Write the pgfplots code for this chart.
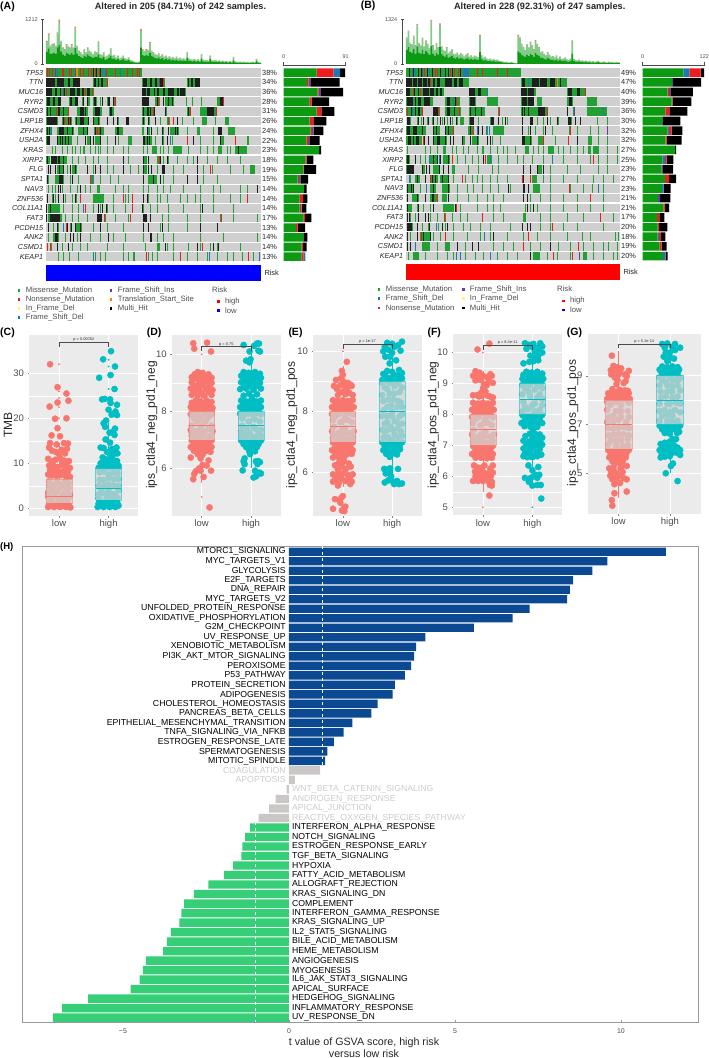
\documentclass[border=0pt]{standalone}
\usepackage{fontspec}
\setmainfont{Liberation Sans}
\usepackage{pgfplots}
\usepackage{pgfplotstable}
\pgfplotsset{compat=1.18}
\definecolor{cMis}{HTML}{22A033}\definecolor{cNon}{HTML}{EE1C1E}\definecolor{cDel}{HTML}{1F78B4}
\definecolor{cIns}{HTML}{6A3D9A}\definecolor{cTss}{HTML}{FF7F00}\definecolor{cBg}{HTML}{CFCFCF}
\definecolor{cMisB}{HTML}{0C9A12}\definecolor{cLt}{HTML}{80CC88}\definecolor{cTip}{HTML}{F47C7C}
\definecolor{sal}{HTML}{F8766D}\definecolor{tea}{HTML}{00BFC4}\definecolor{ggbg}{HTML}{EBEBEB}
\definecolor{boxg}{HTML}{D3D3D3}\definecolor{txg}{HTML}{4D4D4D}\definecolor{hBlue}{HTML}{0B4A92}
\definecolor{hGreen}{HTML}{37CE78}\definecolor{hGray}{HTML}{CCC7C7}\definecolor{hTxt}{HTML}{CCCCCC}
\pgfplotsset{
 base/.style={scale only axis,hide axis,clip=false},
 ov/.style={scale only axis,hide axis,clip=false,xmin=0.4,xmax=2.6,anchor=south west},
 seg/.style={line width=8.6pt,line cap=butt,unbounded coords=jump,forget plot,mark=none},
 bgr/.style={seg,color=cBg}, mis/.style={seg,color=cMis}, non/.style={seg,color=cNon},
 del/.style={seg,color=cDel}, ins/.style={seg,color=cIns}, tss/.style={seg,color=cTss}, blk/.style={seg,color=black!88},
 gg/.style={scale only axis,clip=false,xmin=0.4,xmax=2.6,axis line style={draw=none},
  axis background/.style={fill=ggbg},xtick={1,2},xticklabels={low,high},xtick pos=bottom,ytick pos=left,
  grid=both,grid style={white,line width=.7pt},minor grid style={white,line width=.3pt},
  minor y tick num=1,tick align=outside,tick style={gray,line width=.3pt},major tick length=1.8pt,minor tick length=0pt,
  /pgf/number format/assume math mode=true,xticklabel shift=-1.5pt,
  tick label style={font=\fontsize{9.5}{10}\selectfont,text=txg}},
 psal/.style={only marks,mark=*,mark size=3.1pt,color=sal,mark options={draw=none,fill=sal}},
 ptea/.style={only marks,mark=*,mark size=3.1pt,color=tea,mark options={draw=none,fill=tea}},
 dsal/.style={only marks,mark=*,mark size=.7pt,color=sal,mark options={draw=none,fill=sal}},
 dtea/.style={only marks,mark=*,mark size=.7pt,color=tea,mark options={draw=none,fill=tea}},
}
\newcommand\Seg[3]{\gdef\acc{}\foreach \xa/\xb in {#3}{\pgfmathsetmacro\xe{\xb+2.7}\xdef\acc{\acc(\xa,#2)(\xe,#2)(nan,#2)}}\edef\tmpp{\noexpand\addplot[#1] coordinates {\acc};}\tmpp}
\newcommand\TB[2]{\gdef\acc{}\foreach \vv [count=\ii] in {#2}{\xdef\acc{\acc(\ii,\vv)}}\edef\tmpp{\noexpand\addplot[fill=#1,draw=none] coordinates {\acc};}\tmpp}
\newcommand\BX[9]{\addplot[#1,line width=.5pt,forget plot] coordinates {(#2,#8)(#2,#9)};
 \addplot[draw=#1,fill=boxg,fill opacity=.72,draw opacity=.55,line width=.5pt,forget plot] coordinates {(#3,#5)(#4,#5)(#4,#7)(#3,#7)(#3,#5)};
 \addplot[#1,line width=.8pt,forget plot] coordinates {(#3,#6)(#4,#6)};}
\newcommand\BR[5]{\addplot[black!70,line width=.5pt,forget plot] coordinates {(1,#2)(1,#1)(2,#1)(2,#2)};
 \node[anchor=south,inner sep=.4pt,font=\fontsize{3.9}{4}\selectfont,text=black!80] at (axis cs:#3,#1) {#5};}
\newcommand\Tx[6][]{\node[anchor=#4,inner sep=0pt,#1] at (#2,#3) {\fontsize{#5}{#5}\selectfont #6};}
\newcommand\HL[2]{\node[anchor=east,inner sep=0pt,font=\fontsize{8.7}{9}\selectfont] at (axis cs:-.09,#1) {#2};}
\newcommand\HR[2]{\node[anchor=west,inner sep=0pt,font=\fontsize{8.7}{9}\selectfont] at (axis cs:.09,#1) {#2};}
\newcommand\HLg[2]{\node[anchor=east,inner sep=0pt,text=hTxt,font=\fontsize{8.7}{9}\selectfont] at (axis cs:-.09,#1) {#2};}
\newcommand\HRg[2]{\node[anchor=west,inner sep=0pt,text=hTxt,font=\fontsize{8.7}{9}\selectfont] at (axis cs:.09,#1) {#2};}
\pgfplotstableread{
r g n d i k
1 48.4 24.5 9.8 0 7.3
2 34.2 2.4 0 2.4 43
3 49.4 1.5 0 2.9 33.3
4 37.7 3.4 0 0 25.4
5 48.4 6.8 0 0 19
6 38.1 5.4 0 0 19.1
7 39.6 2 0 2.4 14.2
8 33.3 2.4 0 2 15.2
9 51.9 0 0 0 2.9
10 31.8 2 0 0 9.8
11 28.9 1 0 0 17.6
12 20.5 2 2 0 11.2
13 29.8 0 0 0 3.9
14 23.5 4.9 0 0 6.4
15 23.5 2.4 1 0 6.4
16 28.9 2.4 0 0 9.3
17 18 2.4 0 0 11.2
18 28.9 0 0 0 5.9
19 26.4 2 0 0 5.4
20 25.9 2.9 2.9 0 0
}\tabA
\pgfplotstableread{
r g d n i k
1 80.5 11.9 22.4 0 6.6
2 58.4 0 0 2 55.4
3 49.5 0 2.6 2.6 44.9
4 57.4 0 2 0 36.9
5 44.9 0 7.9 0 35.6
6 38.9 0 0 0 35.6
7 49.5 2.6 5.3 0 21.1
8 44.9 0 2.6 0 29.7
9 64 0 0 0 2
10 38.9 5.3 3.3 0 13.2
11 36.9 0 0 2 21.1
12 44.2 0 7.9 0 13.9
13 38.2 3.3 0 0 13.9
14 30.3 0 0 4 20.4
15 40.9 0 2.6 0 8.6
16 28.4 0 4.6 0 9.9
17 29.7 0 2.6 0 16.5
18 29.7 2.6 4 0 8.6
19 33.6 0 4 0 9.9
20 40.2 4.6 1 0 3.6
}\tabB
\begin{document}
\begin{tikzpicture}[x=1pt,y=1pt]
\path[use as bounding box] (0,0) rectangle (709,1058);
%---------- A top bars
\begin{axis}[scale only axis,clip=false,at={(42.7pt,994pt)},anchor=south west,width=218.3pt,height=44.7pt,
 xmin=-1.35,xmax=121.5,ymin=0,ymax=1212,axis x line=none,axis y line=left,ytick={0,1212},
 ybar stacked,bar width=1.78pt,axis line style={-,black!70,line width=.5pt},tick style={black!70,line width=.5pt},major tick length=3pt,
 /pgf/number format/assume math mode=true,/pgf/number format/1000 sep={},tick label style={font=\fontsize{5.5}{6}\selectfont,text=txg}]
\TB{cMisB}{330,420,280,290,300,280,450,520,340,260,230,300,280,250,300,250,430,280,210,190,160,230,190,260,210,190,160,200,190,260,160,150,190,120,140,160,230,140,150,110,140,100,110,140,100,90,110,70,60,45,35,30,45,450,240,210,240,220,310,220,190,160,150,180,130,160,120,140,110,130,100,110,100,120,90,100,85,95,80,170,90,80,70,85,65,80,60,150,70,60,65,55,130,60,55,65,50,60,45,55,42,50,40,50,36,100,42,36,33,40,30,36,27,33,24,30,36,27,75,30,24}
\TB{cLt}{270,370,200,230,240,200,370,620,270,170,150,220,200,180,220,180,530,200,140,120,100,160,120,180,140,120,100,130,120,330,100,90,120,75,85,100,190,85,95,65,85,55,65,85,55,45,65,38,28,22,13,13,23,450,140,130,140,140,250,120,110,100,90,110,80,90,70,80,60,70,60,70,55,70,55,60,50,60,45,135,55,45,45,50,40,45,35,110,45,35,40,32,90,36,32,40,28,36,27,32,25,32,23,28,22,80,25,22,20,23,18,22,16,20,14,18,22,16,60,18,14}
\TB{cTip}{30,40,20,20,20,20,40,60,20,20,20,20,20,20,20,20,50,20,10,10,10,10,10,10,10,10,10,10,10,20,10,10,10,5,5,10,10,5,5,5,5,5,5,5,5,5,5,2,2,3,2,2,2,50,20,20,20,20,30,20,20,10,10,10,10,10,10,10,10,10,10,10,5,10,5,10,5,5,5,15,5,5,5,5,5,5,5,10,5,5,5,3,10,4,3,5,2,4,3,3,3,3,2,2,2,10,3,2,2,2,2,2,2,2,2,2,2,2,5,2,2}
\end{axis}
%---------- A matrix
\begin{axis}[base,at={(46pt,796.5pt)},anchor=south west,width=215pt,height=193.6pt,xmin=138,xmax=783,ymin=.5,ymax=20.5,y dir=reverse]
\foreach \r in {1,...,20}{\Seg{bgr}{\r}{138/780}}
\addplot[blue,line width=16pt,line cap=butt,forget plot] coordinates {(138,21.7)(783,21.7)};
\Seg{mis}{1}{138/422}\Seg{non}{1}{141,147,156,186,190,207,213,240,250,263,272,284,296,318,345,382,395,410,418}\Seg{del}{1}{170,307,315,360}\Seg{blk}{1}{279,287,299}\Seg{ins}{1}{165,225}\Seg{tss}{1}{228,232}
\Seg{mis}{2}{165/170,192/218,280/322,425/492,560/597}\Seg{blk}{2}{138/162,172/190,205/208,220/238,283/285,293/295,303/306,430/438,450/453,465/468,480/485,565,572/576,585/596}\Seg{non}{2}{490,320}\Seg{ins}{2}{478}
\Seg{mis}{3}{138/278,425/556}\Seg{blk}{3}{138/153,165/168,180,190/193,210/223,232/238,245/248,262/268,425/434,440/448,462,470/473,490/493,505/518,530/533,540/553}\Seg{non}{3}{197,255,275}\Seg{ins}{3}{188}
\Seg{mis}{4}{138/180,208/230,245,262/266,280/288,300,322/328,338/342,425/442,465/478,495/518,558,575,603,650/668}\Seg{blk}{4}{140/148,160/163,175/180,210/213,225/230,250,262,282/284,305,325/326,340,425/443,470/473,490,505,515,660/666}\Seg{non}{4}{345,475,670}
\Seg{mis}{5}{138/203,230/260,280/303,328/338,425/463,495/498,560/570,600/648}\Seg{blk}{5}{140,150,175/178,190,240/248,255,285/298,330/333,430,440/443,450,462,495,565,620/640}\Seg{non}{5}{168,205,460,570,648}
\Seg{mis}{6}{138/170,185/213,225/233,238/263,280/298,340,355,425/433,448,465,480,500/508,530,545,580,605/618,645,675/683}\Seg{blk}{6}{140/168,190,205/210,228,240/248,265,280,295,320,340,350,378/383,430,445,465,505,530}\Seg{non}{6}{192,208,505,520}
\Seg{mis}{7}{138/153,172/220,235/258,282/308,345/366,425/428,440/448,470,490,510/533,560,590/598,640,655,685/703}\Seg{blk}{7}{140,148,178/188,200,215,250,260,285,290,300,350,355,440,452,487,505,525,530,655/663}\Seg{del}{7}{152}\Seg{non}{7}{290,298}
\Seg{mis}{8}{138/148,172/213,230,260/268,285/298,320,345,355,385/393,430/453,465,490,515,580,600,640,660/668,740/745}\Seg{blk}{8}{140/148,172,180,185,195,205,255,270,280,300,345,430/433,440,448,485,500,580,660}\Seg{del}{8}{510}\Seg{non}{8}{560,705}
\Seg{mis}{9}{155,165,185,200,215,225,240,250/253,270,285,295,300,320,340,370,385,430,440,455/468,480,490,505,520/543,565,600,620,640,655/663,680,690,705/738}\Seg{blk}{9}{715}
\Seg{mis}{10}{138/146,155/198,215,235,255,280,295,320,385,430/438,470/478,490,505,530,560,580,620,650,680,720}\Seg{blk}{10}{140,152/168,175/178,190,370,430,445,480,500,590}\Seg{non}{10}{477}
\Seg{mis}{11}{170/188,200,215/228,262,280,300,320,340,390,415,430/438,470,520,550,590,610,635,690,730,750/763}\Seg{blk}{11}{143,150,165,178,188,210,225,260,285,300,370,430,445,452,485/492,590}\Seg{non}{11}{630}
\Seg{mis}{12}{145,165/188,210,235,270/278,300,330,355,430,445/468,490,520,560,590,610,650}\Seg{blk}{12}{140,178/185,215,430,460,480,560,590}\Seg{del}{12}{275}\Seg{non}{12}{270}
\Seg{mis}{13}{145,155,165,185,210,230,255,270,290/298,345,370,385,430,445,470,490,510,550,600,640,660,720,740,770}\Seg{blk}{13}{175,180,240,772}
\Seg{mis}{14}{140,155,165,195,215,228,240,280/308,340,375,385,430,445,470,480,500,540,560,585,600,640,690,720}\Seg{blk}{14}{140,158,175,190,225,430,440}\Seg{non}{14}{240,368,395,740}
\Seg{mis}{15}{145/178,190,215,235,280,300,320,340,375,430,450,470,505,550,600,640,700}\Seg{blk}{15}{138,150,295,305,318,425,605}\Seg{non}{15}{255,395}\Seg{del}{15}{248}
\Seg{mis}{16}{145/183,195,215,235,260,290,315,345,385,430,450,485,505,560,600,660,700,770}\Seg{blk}{16}{138,150/178,290/303,430/438,450}\Seg{non}{16}{312,390,662}
\Seg{mis}{17}{160,175,210,225/243,280,320,370,430,445,480,505,560,600,650}\Seg{blk}{17}{143,170,200,212,225,240,300,430,445,485,600,650}\Seg{del}{17}{190}\Seg{non}{17}{198}
\Seg{mis}{18}{145,160/173,195,230,270,300,340,375,430,470,490,520,600,670,770}\Seg{blk}{18}{165/170,210,220,240,325,450/453}
\Seg{mis}{19}{153,185,215,240,260,320,370,435,470/476,500,520,565,600,630,650,720}\Seg{blk}{19}{170,205,495,590,640,655}\Seg{non}{19}{140,150,605}
\Seg{mis}{20}{175,190,208,235,285,300,315,370,385,400/403,445,455,470,520,560,590,620,650,680,700,725,760}\Seg{del}{20}{278,626,776}\Seg{non}{20}{438,540,745}
\end{axis}
%---------- A right bars
\begin{axis}[scale only axis,clip=false,at={(283.7pt,796.5pt)},anchor=south west,width=62pt,height=195.8pt,xmin=0,xmax=91,ymin=.27,ymax=20.5,y dir=reverse,
 xbar stacked,bar width=8.6pt,axis y line=none,axis x line=top,xtick={0,91},tick align=outside,axis line style={-,black!70,line width=.5pt},tick style={black!70,line width=.5pt},major tick length=3.2pt,
 /pgf/number format/assume math mode=true,tick label style={font=\fontsize{5.5}{6}\selectfont,text=txg}]
\addplot[fill=cMisB,draw=none] table[x=g,y=r]{\tabA};
\addplot[fill=cNon,draw=none] table[x=n,y=r]{\tabA};
\addplot[fill=cDel,draw=none] table[x=d,y=r]{\tabA};
\addplot[fill=cIns,draw=none] table[x=i,y=r]{\tabA};
\addplot[fill=black,draw=none] table[x=k,y=r]{\tabA};
\end{axis}
%---------- B top bars
\begin{axis}[scale only axis,clip=false,at={(402.3pt,994pt)},anchor=south west,width=217.7pt,height=44.7pt,
 xmin=-1.6,xmax=123.5,ymin=0,ymax=1324,axis x line=none,axis y line=left,ytick={0,1324},
 ybar stacked,bar width=1.74pt,axis line style={-,black!70,line width=.5pt},tick style={black!70,line width=.5pt},major tick length=3pt,
 /pgf/number format/assume math mode=true,/pgf/number format/1000 sep={},tick label style={font=\fontsize{5.5}{6}\selectfont,text=txg}]
\TB{cMisB}{420,500,360,330,440,310,520,340,300,420,290,380,330,270,530,310,240,340,280,500,290,240,220,280,190,210,250,180,170,200,160,190,170,140,160,180,135,150,125,145,135,120,350,150,110,130,95,85,100,75,90,70,80,60,55,50,35,40,30,25,35,25,20,15,370,330,280,240,210,270,230,300,260,210,320,280,240,180,190,160,140,190,150,120,130,110,140,100,120,85,95,110,80,70,95,300,85,70,60,75,55,65,50,60,45,55,40,50,35,45,55,35,30,45,35,25,40,30,35,25,30,35,25}
\TB{cLt}{340,460,250,230,370,230,620,260,230,330,210,300,250,190,730,230,170,260,200,660,210,170,160,200,130,150,180,120,110,130,100,130,110,85,110,130,85,100,80,95,85,75,480,100,70,85,60,50,65,45,55,42,50,35,30,30,20,22,15,12,18,12,10,8,460,420,300,240,200,300,240,330,280,210,360,300,240,160,170,130,110,160,120,90,100,80,110,70,90,60,65,80,55,45,65,380,60,45,40,50,35,42,32,38,28,35,25,32,22,28,35,22,18,28,22,15,25,18,22,15,18,22,15}
\TB{cTip}{30,30,20,20,30,20,40,20,20,30,20,20,20,20,50,20,10,20,20,40,20,10,10,20,10,10,10,10,10,10,10,10,10,5,10,10,5,10,5,5,5,5,40,10,5,5,5,5,5,2,5,2,2,2,2,2,2,2,2,2,2,2,2,2,40,40,20,20,10,20,20,30,20,20,30,20,20,10,10,10,10,10,10,5,5,5,5,5,5,5,5,5,5,5,5,20,5,5,5,5,2,2,2,2,2,2,2,2,2,2,2,2,2,2,2,2,2,2,2,2,2,2,2}
\end{axis}
%---------- B matrix
\begin{axis}[base,at={(406pt,797.1pt)},anchor=south west,width=214pt,height=193pt,xmin=168,xmax=810,ymin=.5,ymax=20.5,y dir=reverse]
\foreach \r in {1,...,20}{\Seg{bgr}{\r}{168/807}}
\addplot[red,line width=16pt,line cap=butt,forget plot] coordinates {(168,21.7)(810,21.7)};
\Seg{mis}{1}{168/510}\Seg{del}{1}{340/353,196,236,185}\Seg{non}{1}{222,256,262,300,312,325,380,395,440,470}\Seg{blk}{1}{178,190,205,212,232,245,270,285,295,305,330}\Seg{ins}{1}{215}
\Seg{mis}{2}{168/353,512/649}\Seg{blk}{2}{168/183,190/198,205/213,220/228,235/238,248/253,262/268,285/303,312/318,328/336,515/523,545/563,570/588,600/613,630}\Seg{del}{2}{535}\Seg{non}{2}{240}\Seg{tss}{2}{622}
\Seg{mis}{3}{168/280,357/407,512/555,652/705}\Seg{blk}{3}{168/178,192,205,218/233,240/248,258/260,270/273,357/373,385/390,512/528,535/550,655/663,680/688}\Seg{non}{3}{188,210,706}\Seg{del}{3}{410}
\Seg{mis}{4}{168/245,285/328,357/376,412/441,512/550,562/574,652/666,712/738}\Seg{blk}{4}{172/186,195,205/210,222/238,290/298,315,360/373,515/528,535/548,658/663}\Seg{del}{4}{310}\Seg{non}{4}{318}
\Seg{mis}{5}{168/213,248/266,285/330,357/403,445,512/588,652,670,712/768}\Seg{blk}{5}{172,182,195,205/208,250/260,290/298,312,360,375,392,515,522,535,565/583,652}\Seg{non}{5}{170,215,265,328,448,590}\Seg{del}{5}{185,760}\Seg{ins}{5}{672}
\Seg{mis}{6}{180,200,212,232,245,262,275,290,305,320,330/338,357/370,385,420/430,455,470,515,540,560,580,600,625,655/663,690,740,770}\Seg{blk}{6}{170/178,205,218,235,250,270,282,300,318,360/368,422/428,445,465,515,540/546,590,620,655/660,675,690}
\Seg{mis}{7}{168/226,248/266,285/308,355/370,385,410,430/458,515,535,555,580,605,658,680,720,745}\Seg{blk}{7}{172/178,190/198,215,250,258,285,295,360,370,385,395,515,540,585}\Seg{non}{7}{310,368,660}\Seg{del}{7}{380,408,418}\Seg{ins}{7}{770}
\Seg{mis}{8}{168/213,248/288,310,335/343,365/383,410,425,450,515/543,565/578,615,655,680,715/723,745,770}\Seg{blk}{8}{175/180,190,198/204,222,235,250,260/266,285,300,310,335,360,380,410,420,515/523,540,580,680}\Seg{non}{8}{220,580,655}
\Seg{mis}{9}{172,225,240,260,278/286,305,318,340,355,380,395/398,420,440,460,470,495,525/533,550,565,580,595/608,625,640,660,680,700,715/720,730/743,770,800}
\Seg{mis}{10}{168/176,195,210,225,240/258,280/298,320,345,365,385,410/423,445,470,500,520,545,580,605,640,680,720,745,770,800}\Seg{blk}{10}{170/174,195,250,262,270,295,400}\Seg{del}{10}{236,268,420,605}\Seg{non}{10}{305,406,730}
\Seg{mis}{11}{168/188,215/223,250/263,280,305/313,355,385,425,445,520,540,565/573,600,650,690,745,770}\Seg{blk}{11}{172/188,215,228,238,268,278,295,520,540,560,580}
\Seg{mis}{12}{180,195/208,225,240/260,270/293,310,345,365,380,395,420,440,470,515,545/558,580,600,640,680,730,760,790}\Seg{blk}{12}{200,225,245,255,275,295,520}\Seg{non}{12}{240,335,515,540}\Seg{del}{12}{178}
\Seg{mis}{13}{170/188,210,240/256,275/298,320,350,370,395,420,445,480,520,550/568,600,660,700,725,760}\Seg{blk}{13}{172,182,190,250,295,475,518/523,535}\Seg{del}{13}{228,745}\Seg{non}{13}{658}
\Seg{mis}{14}{170,185/203,240/258,275/288,320,355,380,410,430,460,520,540,570,600,640,680,760}\Seg{blk}{14}{172,200,225,245,250,295,520,530}\Seg{non}{14}{720,260}
\Seg{mis}{15}{170/183,200,220,240,280/308,330,380,410,430,450,525,540,560,600,640,680,720,760}\Seg{blk}{15}{172,205,250,315,530,550}\Seg{non}{15}{318}
\Seg{mis}{16}{180,195,240,260,285,305,330,350,430,460,520/525,570,600,650,700,790}\Seg{blk}{16}{170,178,205,225,235}\Seg{non}{16}{282,395,750}
\Seg{mis}{17}{170/186,215,235,265,285,310,340,360,390,420,480,515,540,570,600,640,680,760}\Seg{blk}{17}{170/183,200,238,275,290,515,530,540}\Seg{del}{17}{258}\Seg{non}{17}{605}
\Seg{mis}{18}{180,210/238,250,270,310,350,390,420,470,520,560,600,650,695,720,795,803}\Seg{blk}{18}{170,200,220,240,430}\Seg{del}{18}{403}\Seg{non}{18}{212,285,535}
\Seg{mis}{19}{215/238,260,285/298,345,430,460,490,540,570,625,660,700,730,760,775,800}\Seg{blk}{19}{170,180,320,367,385,600}\Seg{del}{19}{195}\Seg{non}{19}{520,685}
\Seg{mis}{20}{175,190/203,225,260,290,310,345,375,400,440,470,500,550/568,590,620,660,700/708,730,760,790,800}\Seg{blk}{20}{540}\Seg{del}{20}{318,330,420}\Seg{non}{20}{610,665}\Seg{ins}{20}{688}
\end{axis}
%---------- B right bars
\begin{axis}[scale only axis,clip=false,at={(642.7pt,797.1pt)},anchor=south west,width=61.6pt,height=195.2pt,xmin=0,xmax=122,ymin=.27,ymax=20.5,y dir=reverse,
 xbar stacked,bar width=8.6pt,axis y line=none,axis x line=top,xtick={0,122},tick align=outside,axis line style={-,black!70,line width=.5pt},tick style={black!70,line width=.5pt},major tick length=3.2pt,
 /pgf/number format/assume math mode=true,tick label style={font=\fontsize{5.5}{6}\selectfont,text=txg}]
\addplot[fill=cMisB,draw=none] table[x=g,y=r]{\tabB};
\addplot[fill=cDel,draw=none] table[x=d,y=r]{\tabB};
\addplot[fill=cNon,draw=none] table[x=n,y=r]{\tabB};
\addplot[fill=cIns,draw=none] table[x=i,y=r]{\tabB};
\addplot[fill=black,draw=none] table[x=k,y=r]{\tabB};
\end{axis}
%---------- C
\begin{axis}[gg,at={(29.3pt,542pt)},anchor=south west,width=109pt,height=181pt,ymin=-1.7,ymax=38.5,ytick={0,10,20,30}]
\addplot[psal] coordinates {(.82,32)(.97,26.9)(1.15,25.5)(.97,23.5)(1.19,23.9)(.81,22.6)(.92,19.9)(1.15,20)(.97,17.8)(.85,16.2)(1.02,16)(.82,14.5)(.95,14.2)(1.1,14.5)(1.18,14.4)(.8,13.5)(1.05,13)(1.16,13.2)(.86,12.8)(.94,12.5)(1.0,12)(1.12,12.2)(.78,11)(.85,10.5)(.93,10.8)(1.03,11)(1.1,10.6)(1.2,10.5)(.8,9.5)(.88,9.6)(.97,9.2)(1.06,9.6)(1.15,9.4)(1.22,9)(.82,8.5)(.9,8.4)(1.0,8.2)(1.1,8.3)(1.18,8.2)(.78,7.5)(.86,7.3)(.95,7.2)(1.04,7.4)(1.14,7.2)(1.22,7)(.8,6)(.95,5.8)(1.12,6)(.85,4.5)(1.05,4.8)(1.2,4.5)(.78,3.5)(.92,3.2)(1.1,3.4)(1.22,3)(.82,2.2)(1,2)(1.16,2.2)(.78,.3)(.84,.6)(.9,.3)(.96,.7)(1.02,.3)(1.08,.6)(1.14,.3)(1.2,.6)(.8,1)(.88,1.1)(.94,.9)(1.0,1.2)(1.06,1)(1.12,1.1)(1.18,1.0)(1.23,.2)(.8,5)(.9,5.2)(1,5.4)(1.1,5)(1.2,5.6)(.85,3.9)(.97,4)(1.16,3.8)(.78,2.6)(.9,2.5)(1.06,2.8)(1.2,2.4)(.86,1.5)(1.05,1.6)};
\addplot[ptea] coordinates {(2.05,34.9)(1.89,33.1)(2.13,31.5)(1.81,29)(2.04,29.6)(2.12,26.5)(1.87,24.2)(1.92,24.3)(2.03,24.2)(2.04,23.4)(2.17,23)(2,21.9)(2.14,21.5)(2.06,20.8)(2.17,20.7)(1.95,19.5)(1.9,18.9)(1.93,18.1)(2.13,17.7)(2.09,17)(2.12,16.3)(2.02,16.8)(1.94,15.3)(2.03,14.6)(2.16,13.5)(1.84,13.5)(1.9,13.4)(2.07,13.2)(2.13,12.8)(1.97,12.5)(2.03,12)(2.09,11.9)(2.18,12.2)(1.88,11.3)(1.94,10.9)(2.02,10.8)(2.1,10.7)(2.17,10.5)(1.84,10)(1.91,10)(1.98,9.9)(2.05,10)(2.12,9.7)(2.2,9.5)(1.8,9)(1.88,9.1)(1.96,9)(2.04,9.1)(2.12,9)(2.2,9)(1.82,8)(2,7.5)(2.18,7.8)(1.9,6.3)(2.1,6.5)(1.8,5)(2,5.3)(2.2,5)(1.88,3.4)(2.08,3.2)(1.8,2.2)(1.96,2.3)(2.18,2.3)(1.78,.3)(1.84,.6)(1.9,.3)(1.96,.7)(2.02,.3)(2.08,.6)(2.14,.3)(2.2,.6)(1.8,1.1)(1.88,1.2)(1.94,1)(2,1.3)(2.06,1.1)(2.12,1.2)(2.18,1.1)(1.83,1.7)(1.97,1.7)(2.1,1.7)(1.9,8.2)(2.1,8)(2,6.8)(2.2,6.5)(1.82,6.3)(1.92,5)(2.1,5.1)(2.0,4.2)(1.85,4.2)(2.2,4)(2.12,3)(1.98,3.3)(1.8,3.1)(2.05,2.2)};
\end{axis}
\begin{axis}[ov,at={(29.3pt,542pt)},width=109pt,height=181pt,ymin=-1.7,ymax=38.5]
\BX{sal}{1}{.74}{1.26}{1.2}{2.7}{6.5}{0}{14.5}
\BX{tea}{2}{1.74}{2.26}{1.9}{4.4}{8.8}{0}{19}
\addplot[dsal] coordinates {(1,32)(1,26)(1,24.5)(1,22.5)(1,20)};
\addplot[dtea] coordinates {(2,33)(2,31.5)(2,29.5)(2,26.5)(2,24)};
\BR{36.9}{35.8}{1.5}{}{p = 0.00054}
\end{axis}
%---------- D
\begin{axis}[gg,at={(172pt,542pt)},anchor=south west,width=108.7pt,height=181pt,ymin=4.33,ymax=10.68,ytick={6,8,10}]
\addplot[psal] coordinates {(.83,10.39)(1.11,10.41)(.85,10.2)(1.19,10.1)(.92,9.38)(1.02,9.35)(.86,9.3)(1.14,9.3)(.98,9.25)(1.08,9.22)(.8,9.2)(1.2,9.18)(.9,9.15)(1.03,9.1)(.8,9.02)(.95,9.0)(1.1,9.05)(1.2,9.0)(.86,8.9)(1.02,8.92)(1.16,8.88)(.78,8.8)(.94,8.78)(1.08,8.8)(1.22,8.75)(.85,8.68)(1.0,8.65)(1.14,8.7)(.8,8.58)(.92,8.55)(1.06,8.55)(1.2,8.58)(.88,8.38)(.98,8.35)(1.1,8.38)(1.2,8.33)(.8,8.3)(.94,8.25)(1.04,8.28)(1.16,8.22)(.78,8.15)(.87,8.15)(1.0,8.12)(1.1,8.13)(1.22,8.12)(.82,8.05)(.93,8.03)(1.04,8.02)(1.14,8.04)(1.2,8.0)(.82,7.85)(.98,7.8)(1.15,7.85)(.9,7.65)(1.08,7.65)(.8,7.5)(1,7.5)(1.2,7.5)(.88,7.3)(1.06,7.28)(.8,7.15)(.98,7.15)(1.18,7.15)(.8,6.98)(.9,6.95)(1.0,6.97)(1.1,6.95)(1.2,6.98)(.84,6.85)(.95,6.85)(1.05,6.85)(1.15,6.85)(.78,6.75)(.9,6.72)(1.0,6.75)(1.12,6.72)(1.2,6.75)(.84,6.62)(.98,6.6)(1.08,6.6)(1.18,6.58)(.92,6.5)(1.02,6.48)(.78,6.38)(.98,6.35)(1.14,6.28)(1.02,6.12)(.95,6)(1.1,6.1)(.98,5.92)(1.19,5.92)(.88,5.9)(.85,5.8)(1.04,5.7)(.83,5.62)(1.16,4.63)(.78,7.9)(.9,7.92)(1.05,7.95)(1.2,7.9)(.85,7.75)(.95,7.72)(1.12,7.78)(.78,7.35)(.97,7.38)(1.14,7.4)(1.22,7.3)(.8,7.25)(1.0,7.22)(.9,7.1)(1.1,7.08)};
\addplot[ptea] coordinates {(1.85,10.33)(2.06,10.3)(2.12,10.38)(2.16,10.38)(1.97,10.1)(2.15,10.13)(2.18,10.1)(1.9,9.78)(1.97,9.72)(1.99,9.83)(1.85,9.38)(1.95,9.35)(2.08,9.38)(2.18,9.32)(2.02,9.28)(1.8,9.25)(1.92,9.22)(2.12,9.25)(2.2,9.18)(1.86,9.12)(2.0,9.12)(2.1,9.1)(1.8,9.02)(1.93,9.0)(2.05,9.0)(2.18,9.0)(1.86,8.9)(1.98,8.88)(2.12,8.9)(1.78,8.78)(1.9,8.8)(2.05,8.76)(2.2,8.8)(1.96,8.62)(2.12,8.6)(1.85,8.55)(2.02,8.5)(1.8,8.38)(1.9,8.35)(2,8.38)(2.1,8.35)(2.2,8.38)(1.85,8.25)(1.95,8.25)(2.05,8.25)(2.15,8.25)(1.78,8.15)(1.9,8.13)(2,8.15)(2.1,8.13)(2.2,8.15)(1.84,8.04)(1.95,8.03)(2.05,8.04)(2.15,8.03)(1.85,7.85)(2.05,7.85)(1.95,7.65)(2.18,7.65)(1.82,7.5)(2.05,7.45)(1.9,7.28)(2.15,7.28)(1.8,7.12)(2,7.12)(2.2,7.15)(1.8,6.98)(1.9,6.95)(2,6.97)(2.1,6.95)(2.2,6.98)(1.85,6.85)(1.95,6.85)(2.05,6.85)(2.15,6.85)(1.9,6.75)(2,6.72)(2.12,6.75)(1.96,6.62)(2.08,6.6)(1.98,6.5)(1.87,6.35)(1.85,6.25)(1.87,6.15)(2.1,6.25)(2.15,6.25)(2.18,6.22)(2.13,6.15)(1.83,5.93)(2.08,5.92)(2.17,5.85)(2.12,5.78)(2.2,5.82)(2.05,5.68)(2.1,5.72)(1.78,7.92)(1.95,7.92)(2.12,7.95)(2.2,7.9)(1.82,7.75)(2.08,7.72)(1.92,7.38)(2.1,7.38)(2.2,7.35)(1.8,7.3)(1.98,7.22)(1.88,7.08)(2.08,7.1)};
\end{axis}
\begin{axis}[ov,at={(172pt,542pt)},width=108.7pt,height=181pt,ymin=4.33,ymax=10.68]
\BX{sal}{1}{.74}{1.26}{7}{7.5}{8}{5.5}{9.4}
\BX{tea}{2}{1.74}{2.26}{7}{7.5}{8}{6}{10}
\addplot[dsal] coordinates {(1,5)(1,10)};
\BR{10.27}{10.13}{1.5}{}{p = 0.75}
\end{axis}
%---------- E
\begin{axis}[gg,at={(313.3pt,542pt)},anchor=south west,width=108.4pt,height=181pt,ymin=4.54,ymax=10.54,ytick={6,8,10}]
\addplot[psal] coordinates {(1.08,9.65)(.98,9.35)(1,9.22)(.96,9.1)(.86,9.05)(1.0,9.02)(1.1,8.95)(1.15,8.9)(.82,8.85)(.95,8.88)(1.03,8.85)(.88,8.75)(1.08,8.75)(1.18,8.85)(.98,8.65)(1.13,8.62)(1.05,8.58)(.9,8.55)(1.2,8.55)(.8,8.38)(.9,8.35)(1,8.38)(1.1,8.35)(1.2,8.38)(.85,8.25)(.95,8.25)(1.05,8.25)(1.15,8.25)(.78,8.15)(.9,8.13)(1,8.15)(1.1,8.13)(1.22,8.15)(.84,8.04)(.95,8.03)(1.05,8.04)(1.15,8.03)(.85,7.85)(1.05,7.85)(.95,7.65)(1.18,7.65)(.82,7.5)(1.05,7.45)(.9,7.28)(1.15,7.28)(.8,7.12)(1,7.12)(1.2,7.15)(.8,6.98)(.9,6.95)(1,6.97)(1.1,6.95)(1.2,6.98)(.85,6.85)(.95,6.85)(1.05,6.85)(1.15,6.85)(.78,6.72)(.9,6.75)(1,6.72)(1.12,6.75)(1.2,6.72)(.85,6.6)(.96,6.6)(1.08,6.58)(1.18,6.6)(.8,6.48)(.92,6.48)(1.02,6.48)(.92,6.3)(1.02,6.35)(1.12,6.28)(.84,6.22)(.98,6.18)(1.16,6.18)(.9,6.08)(1.06,6.1)(.8,5.92)(.9,5.92)(1,5.95)(1.1,5.9)(1.2,5.92)(.85,5.8)(.97,5.8)(1.14,5.82)(.8,5.68)(.92,5.65)(1.05,5.7)(1.18,5.68)(1.15,5.6)(.9,5.55)(1.0,5.2)(.97,5.15)(.93,5.05)(.84,5.1)(.95,4.98)(.8,4.78)(.98,4.72)(1.02,4.8)(1.05,4.85)(1.03,4.7)(.78,7.92)(.92,7.92)(1.08,7.95)(1.2,7.9)(.8,7.72)(1.02,7.72)(1.1,7.72)(.78,7.35)(.97,7.38)(1.07,7.3)(1.22,7.35)(.82,7.25)(.98,7.25)(.9,7.08)(1.1,7.08)};
\addplot[ptea] coordinates {(1.9,10.28)(2,10.25)(2.12,10.2)(2.2,10.32)(1.85,10.15)(1.93,10.05)(2.05,10.15)(2.17,10.02)(1.82,10)(2,9.95)(1.86,9.82)(1.96,9.82)(2.08,9.7)(1.95,9.6)(1.9,9.35)(2,9.32)(2.14,9.38)(2.2,9.28)(1.82,9.25)(2.04,9.22)(2.12,9.2)(1.88,9.15)(1.98,9.12)(2.2,9.1)(1.8,9.05)(1.92,9.03)(2.06,9.03)(2.14,9.04)(1.85,8.8)(2.05,8.85)(1.95,8.6)(2.15,8.65)(1.82,8.35)(2.02,8.4)(2.18,8.3)(1.9,8.15)(2.1,8.15)(1.8,7.85)(2,7.85)(2.2,7.9)(1.9,7.65)(2.1,7.65)(1.85,7.35)(2.02,7.4)(2.18,7.35)(1.92,7.15)(2.12,7.15)(1.8,6.98)(1.9,6.95)(2,6.97)(2.1,6.95)(2.2,6.98)(1.85,6.85)(1.95,6.85)(2.05,6.85)(2.15,6.85)(1.82,6.72)(1.92,6.75)(2.04,6.72)(2.16,6.75)(1.88,6.6)(2,6.6)(2.1,6.58)(1.95,6.5)(1.84,6.1)(1.9,6.08)(1.96,6.12)(2.12,6.1)(1.87,5.95)(1.94,5.98)(1.98,5.85)(1.95,5.75)(1.85,5.65)(1.92,5.72)(2.02,5.68)(2.1,5.7)(2.04,5.6)(2.14,5.6)(2.2,5.62)(1.8,8.95)(1.95,8.95)(2.12,8.95)(1.9,8.75)(2.2,8.8)(1.8,8.55)(2.05,8.6)(1.92,8.4)(2.12,8.35)(1.98,8.2)(2.2,8.15)(1.83,8.05)(2.0,8.0)(2.15,7.85)(1.9,7.85)(2.05,7.7)(1.85,7.6)(2.2,7.6)(1.97,7.5)(2.12,7.45)(1.8,7.4)(1.92,7.4)(2.05,7.25)(2.2,7.2)(1.83,7.15)(2,7.05)};
\end{axis}
\begin{axis}[ov,at={(313.3pt,542pt)},width=108.4pt,height=181pt,ymin=4.54,ymax=10.54]
\BX{sal}{1}{.74}{1.26}{7}{7.5}{8}{5.5}{9.5}
\BX{tea}{2}{1.74}{2.26}{7}{8}{9}{5.7}{10.3}
\addplot[dsal] coordinates {(1,10)};
\BR{10.23}{10.06}{1.5}{}{p = 1e-17}
\end{axis}
%---------- F
\begin{axis}[gg,at={(453.3pt,542.7pt)},anchor=south west,width=108.7pt,height=181pt,ymin=4.74,ymax=10.59,ytick={5,6,7,8,9,10}]
\addplot[psal] coordinates {(.89,10.1)(1.13,10.29)(.85,9.4)(.93,9.35)(1.15,9.3)(.8,9.25)(.9,9.22)(1,9.25)(1.08,9.2)(1.18,9.25)(.85,9.1)(.94,9.12)(1.12,9.08)(1.2,9.02)(1.02,8.98)(1.08,8.95)(1.0,8.85)(1.05,8.75)(.96,8.7)(.88,8.62)(.98,8.6)(.8,8.62)(1.1,8.6)(.92,8.58)(1.2,8.55)(1.14,8.58)(.8,8.38)(.9,8.35)(1,8.38)(1.1,8.35)(1.2,8.38)(.85,8.25)(.95,8.25)(1.05,8.25)(1.15,8.25)(.78,8.15)(.9,8.13)(1,8.15)(1.1,8.13)(1.22,8.15)(.84,8.04)(.95,8.03)(1.05,8.04)(1.15,8.03)(.85,7.85)(1.05,7.85)(.95,7.65)(1.18,7.65)(.82,7.5)(1.05,7.45)(.9,7.28)(1.15,7.28)(.8,7.12)(1,7.12)(1.2,7.15)(.8,6.98)(.9,6.95)(1,6.97)(1.1,6.95)(1.2,6.98)(.85,6.85)(.95,6.85)(1.05,6.85)(1.15,6.85)(.78,6.72)(.9,6.75)(1,6.72)(1.12,6.75)(1.2,6.72)(.85,6.6)(.96,6.6)(1.08,6.58)(1.18,6.6)(.82,6.35)(1.03,6.35)(1.2,6.35)(.9,6.28)(.98,6.28)(1.15,6.25)(.84,6.15)(.93,6.12)(1.02,6.12)(1.12,6.1)(1.2,6.12)(.85,6)(.95,6.0)(1.08,5.98)(1.16,6)(.8,5.85)(.9,5.85)(1,5.85)(1.1,5.85)(1.18,5.82)(1.14,5.72)(1.18,5.7)(1.13,5.38)(.78,7.92)(.92,7.92)(1.08,7.95)(1.2,7.9)(.8,7.72)(1.02,7.72)(1.1,7.72)(.78,7.35)(.97,7.38)(1.07,7.3)(1.22,7.35)(.82,7.25)(.98,7.25)(.9,7.08)(1.1,7.08)};
\addplot[ptea] coordinates {(1.85,10.3)(1.93,10.25)(2.02,10.28)(2.16,10.3)(1.88,10.12)(2,10.18)(2.1,10.15)(2.2,10.2)(2.05,10.05)(2.14,10.02)(2.2,10.0)(1.96,9.9)(2.05,9.85)(2.12,9.9)(1.82,9.65)(1.94,9.7)(2.02,9.72)(2.12,9.75)(1.88,9.38)(1.98,9.35)(2.1,9.38)(2.2,9.32)(1.82,9.28)(1.93,9.25)(2.04,9.25)(2.15,9.25)(1.8,9.15)(1.92,9.12)(2.02,9.15)(2.12,9.12)(2.22,9.15)(1.85,9.04)(1.97,9.03)(2.08,9.04)(2.18,9.03)(1.85,8.85)(2.05,8.8)(1.95,8.6)(2.15,8.65)(1.82,8.4)(2.05,8.35)(1.92,8.18)(2.15,8.15)(1.8,7.98)(1.9,7.95)(2,7.97)(2.1,7.95)(2.2,7.98)(1.85,7.85)(1.95,7.85)(2.05,7.85)(2.15,7.85)(1.78,7.72)(1.9,7.75)(2,7.72)(2.12,7.75)(2.2,7.72)(1.84,7.62)(1.96,7.6)(2.1,7.6)(2.02,7.52)(1.95,7.38)(2.05,7.38)(2.15,7.35)(2.2,7.25)(1.86,7.3)(2.0,7.25)(2.1,7.2)(1.82,7.15)(1.93,7.12)(2.04,7.12)(2.16,7.12)(1.88,7.02)(1.98,7.0)(2.1,7)(2.2,7.02)(1.82,6.9)(1.94,6.88)(2.05,6.9)(2.15,6.88)(1.85,6.75)(1.95,6.75)(2.08,6.75)(2.18,6.7)(1.82,6.65)(1.9,6.62)(2,6.62)(2.1,6.65)(1.92,6.35)(2.12,6.3)(2,6.2)(2.06,6.05)(1.85,5.95)(1.97,5.95)(2.02,6.0)(1.93,5.82)(2.1,5.95)(2.14,6.05)(2.0,5.7)(2.1,5.72)(2.17,5.72)(2.18,5.28)(1.8,8.95)(1.95,8.95)(2.1,8.9)(2.2,8.85)(1.92,8.75)(1.8,8.65)(2.1,8.55)(2.2,8.5)(1.85,8.25)(2,8.3)(2.2,8.3)(1.8,8.1)(2.05,8.1)};
\end{axis}
\begin{axis}[ov,at={(453.3pt,542.7pt)},width=108.7pt,height=181pt,ymin=4.74,ymax=10.59]
\BX{sal}{1}{.74}{1.26}{7}{7.5}{8}{5.5}{9.4}
\BX{tea}{2}{1.74}{2.26}{8}{8.5}{9}{5.7}{10.3}
\addplot[dsal] coordinates {(1,10)(1,5)};
\addplot[dtea] coordinates {(2,5)};
\BR{10.24}{10.08}{1.5}{}{p = 8.4e-11}
\end{axis}
%---------- G
\begin{axis}[gg,at={(587.7pt,544pt)},anchor=south west,width=113pt,height=180pt,ymin=3.33,ymax=10.71,ytick={5,7,9}]
\addplot[psal] coordinates {(.87,9.82)(.9,9.4)(.97,9.35)(1.05,9.3)(.85,9.22)(.93,9.2)(1.02,9.18)(1.2,9.2)(.86,9.05)(1.0,9.05)(1.12,9.05)(.93,8.92)(1.16,8.98)(.98,8.82)(1.14,8.78)(.96,8.65)(1.1,8.7)(.88,8.45)(.98,8.35)(1.12,8.4)(1.02,8.42)(1.18,8.38)(.8,8.28)(.9,8.25)(1,8.28)(1.1,8.25)(1.2,8.28)(.85,8.15)(.95,8.15)(1.05,8.15)(1.15,8.15)(.78,8.05)(.9,8.03)(1,8.05)(1.1,8.03)(1.22,8.05)(.85,7.8)(1.05,7.8)(.95,7.55)(1.18,7.55)(.82,7.3)(1.05,7.3)(.9,7.1)(1.15,7.1)(.8,6.85)(1,6.85)(1.2,6.85)(.9,6.6)(1.1,6.6)(.85,6.35)(1.05,6.35)(.95,6.15)(1.18,6.15)(.8,5.95)(.9,5.92)(1,5.95)(1.1,5.92)(1.2,5.95)(.85,5.8)(.95,5.8)(1.05,5.8)(1.15,5.8)(.82,5.65)(.92,5.65)(1.02,5.62)(1.14,5.65)(.88,5.5)(.97,5.48)(1.08,5.5)(.92,5.35)(1.05,5.3)(1.16,5.3)(.82,5.2)(.9,5.18)(1.04,5.2)(.86,5.05)(.96,5.0)(1.08,5.05)(.84,4.9)(.94,4.85)(1.05,4.9)(.88,4.75)(.97,4.72)(1.1,4.8)(1.16,4.75)(.92,4.55)(1.03,4.6)(.92,4.18)(1.16,4.25)(.87,3.9)(.88,3.67)(.78,7.92)(.95,7.92)(1.2,7.9)(.78,7.6)(1.05,7.55)(.9,7.35)(1.2,7.3)(1,7.2)(.78,7.1)(1.1,6.9)(.9,6.85)(.8,6.55)(1,6.6)(1.2,6.55)(.95,6.35)(1.18,6.4)(.8,6.2)(1.08,6.12)};
\addplot[ptea] coordinates {(1.85,10.3)(1.95,10.32)(2.1,10.3)(2.2,10.15)(1.9,10.15)(2.05,10.18)(2.1,10.05)(1.92,9.95)(2.0,9.95)(1.88,9.78)(2,9.75)(2.08,9.7)(1.95,9.6)(1.85,9.38)(1.95,9.35)(2.05,9.38)(2.15,9.35)(1.8,9.25)(1.9,9.22)(2.0,9.25)(2.1,9.22)(2.18,9.25)(1.84,9.12)(1.95,9.1)(2.05,9.12)(2.15,9.1)(1.88,9.03)(2.0,9.02)(2.12,9.03)(1.85,8.8)(2.05,8.8)(1.95,8.6)(2.15,8.6)(1.82,8.35)(2.05,8.35)(1.92,8.15)(2.15,8.15)(1.8,7.85)(2,7.85)(2.2,7.85)(1.9,7.6)(2.1,7.6)(1.85,7.35)(2.05,7.35)(1.95,7.15)(2.15,7.15)(1.8,6.95)(1.9,6.92)(2,6.95)(2.1,6.92)(2.2,6.95)(1.85,6.8)(1.95,6.8)(2.05,6.8)(2.15,6.8)(1.9,6.65)(2,6.62)(2.18,6.7)(2.14,6.65)(1.82,6.2)(1.9,6.25)(2,6.3)(2.05,6.4)(2.12,6.4)(1.85,6.05)(1.96,6.1)(2.08,6.15)(2.15,6.05)(2.2,5.95)(1.8,5.95)(1.9,5.95)(2,5.98)(2.08,5.95)(1.84,5.82)(1.95,5.8)(2.03,5.82)(2.12,5.85)(1.82,5.65)(1.9,5.68)(2,5.7)(2.2,5.75)(2.06,5.4)(2.02,5.3)(1.92,5)(2.15,4.68)(1.8,8.92)(2,8.92)(2.2,8.9)(1.92,8.75)(2.15,8.8)(1.8,8.6)(2.05,8.55)(2.2,8.4)(1.95,8.35)(1.83,8.1)(2.05,8.1)(1.95,7.85)(2.12,7.9)(1.8,7.55)(2,7.5)(2.2,7.5)(1.95,7.4)(1.8,7.15)(2.05,7.1)};
\end{axis}
\begin{axis}[ov,at={(587.7pt,544pt)},width=113pt,height=180pt,ymin=3.33,ymax=10.71]
\BX{sal}{1}{.74}{1.26}{6}{7}{8}{4}{10}
\BX{tea}{2}{1.74}{2.26}{7}{8}{9}{5}{10.3}
\BR{10.31}{10.12}{1.5}{}{p = 5.1e-14}
\end{axis}
%---------- H
\begin{axis}[scale only axis,clip=false,at={(23pt,35.3pt)},anchor=south west,width=675pt,height=476.7pt,
 xmin=-8.01,xmax=12.32,ymin=.4,ymax=50.53,y dir=reverse,ytick=\empty,xtick={-5,0,5,10},xticklabels={−5,0,5,10},tick pos=bottom,
 bar shift=0pt,bar width=8.4pt,axis line style={black!40,line width=1pt},tick style={black!40,line width=.6pt},major tick length=2.5pt,
 tick label style={font=\fontsize{7}{7}\selectfont,text=txg},xticklabel shift=2pt]
\addplot[xbar,fill=hBlue,draw=none,forget plot] coordinates {(11.35,1)(9.59,2)(9.14,3)(8.56,4)(8.46,5)(8.38,6)(7.25,7)(6.74,8)(5.57,9)(4.11,10)(3.83,11)(3.77,12)(3.68,13)(3.49,14)(3.19,15)(3.12,16)(2.67,17)(2.48,18)(1.91,19)(1.65,20)(1.35,21)(1.16,22)(1.09,23)};
\addplot[xbar,fill=hGray,draw=none,forget plot] coordinates {(.94,24)(.18,25)(-.07,26)(-.4,27)(-.6,28)(-.91,29)};
\addplot[xbar,fill=hGreen,draw=none,forget plot] coordinates {(-1.17,30)(-1.32,31)(-1.4,32)(-1.43,33)(-1.68,34)(-1.96,35)(-2.43,36)(-2.86,37)(-3.16,38)(-3.24,39)(-3.3,40)(-3.56,41)(-3.68,42)(-3.79,43)(-4.31,44)(-4.4,45)(-4.5,46)(-4.77,47)(-6.05,48)(-6.83,49)(-7.11,50)};
\addplot[white,dashed,line width=.5pt,forget plot] coordinates {(1,.4)(1,50.5)};
\addplot[white,dashed,line width=.5pt,forget plot] coordinates {(-1,.4)(-1,50.5)};
\HL{1}{MTORC1\_SIGNALING}\HL{2}{MYC\_TARGETS\_V1}\HL{3}{GLYCOLYSIS}\HL{4}{E2F\_TARGETS}\HL{5}{DNA\_REPAIR}\HL{6}{MYC\_TARGETS\_V2}\HL{7}{UNFOLDED\_PROTEIN\_RESPONSE}\HL{8}{OXIDATIVE\_PHOSPHORYLATION}\HL{9}{G2M\_CHECKPOINT}\HL{10}{UV\_RESPONSE\_UP}\HL{11}{XENOBIOTIC\_METABOLISM}\HL{12}{PI3K\_AKT\_MTOR\_SIGNALING}\HL{13}{PEROXISOME}\HL{14}{P53\_PATHWAY}\HL{15}{PROTEIN\_SECRETION}\HL{16}{ADIPOGENESIS}\HL{17}{CHOLESTEROL\_HOMEOSTASIS}\HL{18}{PANCREAS\_BETA\_CELLS}\HL{19}{EPITHELIAL\_MESENCHYMAL\_TRANSITION}\HL{20}{TNFA\_SIGNALING\_VIA\_NFKB}\HL{21}{ESTROGEN\_RESPONSE\_LATE}\HL{22}{SPERMATOGENESIS}\HL{23}{MITOTIC\_SPINDLE}
\HLg{24}{COAGULATION}\HLg{25}{APOPTOSIS}\HRg{26}{WNT\_BETA\_CATENIN\_SIGNALING}\HRg{27}{ANDROGEN\_RESPONSE}\HRg{28}{APICAL\_JUNCTION}\HRg{29}{REACTIVE\_OXYGEN\_SPECIES\_PATHWAY}
\HR{30}{INTERFERON\_ALPHA\_RESPONSE}\HR{31}{NOTCH\_SIGNALING}\HR{32}{ESTROGEN\_RESPONSE\_EARLY}\HR{33}{TGF\_BETA\_SIGNALING}\HR{34}{HYPOXIA}\HR{35}{FATTY\_ACID\_METABOLISM}\HR{36}{ALLOGRAFT\_REJECTION}\HR{37}{KRAS\_SIGNALING\_DN}\HR{38}{COMPLEMENT}\HR{39}{INTERFERON\_GAMMA\_RESPONSE}\HR{40}{KRAS\_SIGNALING\_UP}\HR{41}{IL2\_STAT5\_SIGNALING}\HR{42}{BILE\_ACID\_METABOLISM}\HR{43}{HEME\_METABOLISM}\HR{44}{ANGIOGENESIS}\HR{45}{MYOGENESIS}\HR{46}{IL6\_JAK\_STAT3\_SIGNALING}\HR{47}{APICAL\_SURFACE}\HR{48}{HEDGEHOG\_SIGNALING}\HR{49}{INFLAMMATORY\_RESPONSE}\HR{50}{UV\_RESPONSE\_DN}
\end{axis}
%---------- text
\begin{scope}[x=1pt,y=-1pt,yshift=1058pt]
\Tx[font=\bfseries]{0}{7}{west}{10.5}{(A)}
\Tx[font=\bfseries]{360.7}{6}{west}{10.5}{(B)}
\Tx[font=\bfseries]{0}{333}{west}{10.5}{(C)}
\Tx[font=\bfseries]{146.7}{333}{west}{10.5}{(D)}
\Tx[font=\bfseries]{288.3}{333}{west}{10.5}{(E)}
\Tx[font=\bfseries]{427.3}{333}{west}{10.5}{(F)}
\Tx[font=\bfseries]{566.7}{333}{west}{10.5}{(G)}
\Tx[font=\bfseries]{0}{547}{west}{9.5}{(H)}
\Tx[font=\bfseries,text=black!85]{180.5}{7}{center}{9.2}{Altered in 205 (84.71\%) of 242 samples.}
\Tx[font=\bfseries,text=black!85]{539.7}{7}{center}{9.2}{Altered in 228 (92.31\%) of 247 samples.}
\foreach \g/\p [count=\i] in {TP53/38,TTN/34,MUC16/36,RYR2/28,CSMD3/31,LRP1B/26,ZFHX4/24,USH2A/22,KRAS/23,XIRP2/18,FLG/19,SPTA1/15,NAV3/14,ZNF536/14,COL11A1/14,FAT3/17,PCDH15/13,ANK2/14,CSMD1/14,KEAP1/13}{
 \Tx[font=\itshape,text=black!85]{43.3}{{72.7+9.68*(\i-1)}}{east}{7.2}{\g}
 \Tx[text=black!85]{262}{{72.7+9.68*(\i-1)}}{west}{7.4}{\p\%}}
\foreach \g/\p [count=\i] in {TP53/49,TTN/47,MUC16/40,RYR2/39,CSMD3/36,LRP1B/30,ZFHX4/32,USH2A/32,KRAS/27,XIRP2/25,FLG/23,SPTA1/27,NAV3/23,ZNF536/21,COL11A1/21,FAT3/17,PCDH15/20,ANK2/18,CSMD1/19,KEAP1/20}{
 \Tx[font=\itshape,text=black!85]{403.3}{{72.7+9.65*(\i-1)}}{east}{7.2}{\g}
 \Tx[text=black!85]{621}{{72.7+9.65*(\i-1)}}{west}{7.4}{\p\%}}
\Tx[text=black!85]{264.3}{273}{west}{7.4}{Risk}
\Tx[text=black!85]{623.3}{272}{west}{7.4}{Risk}
% legends
\fill[cMis] (17.7,289) rectangle ++(2.6,2.6); \Tx[text=txg]{25.7}{290.3}{west}{7.7}{Missense\_Mutation}
\fill[cNon] (17.7,298.4) rectangle ++(2.6,2.6); \Tx[text=txg]{25.7}{299.7}{west}{7.7}{Nonsense\_Mutation}
\fill[yellow!60] (17.7,307.4) rectangle ++(2.6,2.6); \Tx[text=txg]{25.7}{308.7}{west}{7.7}{In\_Frame\_Del}
\fill[cDel] (17.7,316.2) rectangle ++(2.6,2.6); \Tx[text=txg]{25.7}{317.5}{west}{7.7}{Frame\_Shift\_Del}
\fill[cIns] (109.7,289) rectangle ++(2.6,2.6); \Tx[text=txg]{117.7}{290.3}{west}{7.7}{Frame\_Shift\_Ins}
\fill[cTss] (109.7,298.4) rectangle ++(2.6,2.6); \Tx[text=txg]{117.7}{299.7}{west}{7.7}{Translation\_Start\_Site}
\fill[black] (109.7,307.4) rectangle ++(2.6,2.6); \Tx[text=txg]{117.7}{308.7}{west}{7.7}{Multi\_Hit}
\Tx[text=txg]{212}{289.7}{west}{7.7}{Risk}
\fill[red] (217,300.4) rectangle ++(2.8,2.8); \Tx[text=txg]{225}{301.7}{west}{7.7}{high}
\fill[blue] (217,309.4) rectangle ++(2.8,2.8); \Tx[text=txg]{225}{310.7}{west}{7.7}{low}
\fill[cMis] (377.7,288.4) rectangle ++(2.6,2.6); \Tx[text=txg]{385.7}{289.7}{west}{7.7}{Missense\_Mutation}
\fill[cDel] (377.7,297.4) rectangle ++(2.6,2.6); \Tx[text=txg]{385.7}{298.7}{west}{7.7}{Frame\_Shift\_Del}
\fill[cNon] (377.7,306.7) rectangle ++(2.6,2.6); \Tx[text=txg]{385.7}{308}{west}{7.7}{Nonsense\_Mutation}
\fill[cIns] (462,288.4) rectangle ++(2.6,2.6); \Tx[text=txg]{469.7}{289.7}{west}{7.7}{Frame\_Shift\_Ins}
\fill[yellow!60] (462,297.4) rectangle ++(2.6,2.6); \Tx[text=txg]{469.7}{298.7}{west}{7.7}{In\_Frame\_Del}
\fill[black] (462,306.7) rectangle ++(2.6,2.6); \Tx[text=txg]{469.7}{308}{west}{7.7}{Multi\_Hit}
\Tx[text=txg]{557}{289}{west}{7.7}{Risk}
\fill[red] (562,299.7) rectangle ++(2.8,2.8); \Tx[text=txg]{570}{301}{west}{7.7}{high}
\fill[blue] (562,308.7) rectangle ++(2.8,2.8); \Tx[text=txg]{570}{310}{west}{7.7}{low}
% y labels
\Tx[rotate=90,text=black!85]{8}{425}{center}{12}{TMB}
\Tx[rotate=90,text=black!85]{151.7}{425}{center}{12}{ips\_ctla4\_neg\_pd1\_neg}
\Tx[rotate=90,text=black!85]{291.7}{425}{center}{12}{ips\_ctla4\_neg\_pd1\_pos}
\Tx[rotate=90,text=black!85]{433.3}{425}{center}{12}{ips\_ctla4\_pos\_pd1\_neg}
\Tx[rotate=90,text=black!85]{572.7}{423}{center}{12}{ips\_ctla4\_pos\_pd1\_pos}
\Tx[text=black!85]{364}{1042.7}{center}{10.7}{t value of GSVA score, high risk}
\Tx[text=black!85]{364}{1053.5}{center}{10.7}{versus low risk}
\end{scope}
\end{tikzpicture}
\end{document}
